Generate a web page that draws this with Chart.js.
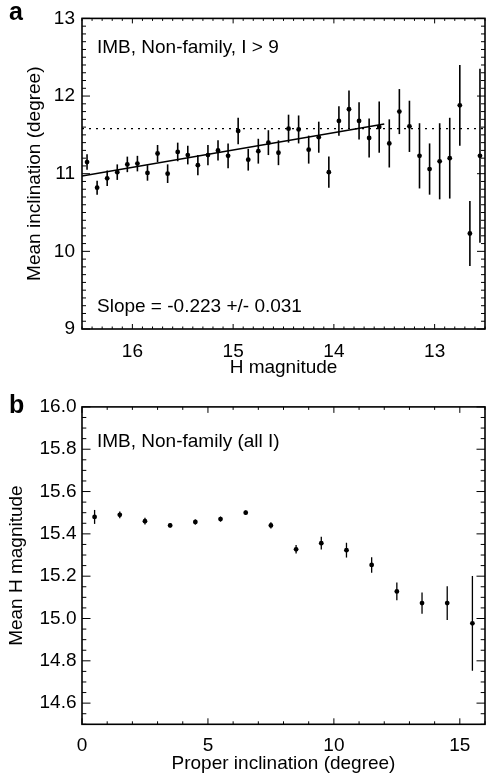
<!DOCTYPE html>
<html>
<head>
<meta charset="utf-8">
<script src="https://cdn.jsdelivr.net/npm/chart.js@4.4.0/dist/chart.umd.min.js"></script>
<style>
  html, body { margin: 0; padding: 0; background: #fff; }
  canvas { position: absolute; left: 0; }
  #chartA { top: 0; }
  #chartB { top: 390px; }
</style>
</head>
<body>
<canvas id="chartA" width="489" height="390"></canvas>
<canvas id="chartB" width="489" height="390"></canvas>
<script>
// ---- panel a: mean inclination vs H magnitude ----
const hMag = [16.45, 16.35, 16.25, 16.15, 16.05, 15.95, 15.85, 15.75, 15.65, 15.55,
              15.45, 15.35, 15.25, 15.15, 15.05, 14.95, 14.85, 14.75, 14.65, 14.55,
              14.45, 14.35, 14.25, 14.15, 14.05, 13.95, 13.85, 13.75, 13.65, 13.55,
              13.45, 13.35, 13.25, 13.15, 13.05, 12.95, 12.85, 12.75, 12.65, 12.55];
const meanIncl = [11.15, 10.82, 10.94, 11.02, 11.12, 11.13, 11.01, 11.26, 11.00, 11.28,
                  11.24, 11.11, 11.24, 11.30, 11.23, 11.55, 11.18, 11.29, 11.40, 11.27,
                  11.58, 11.57, 11.31, 11.47, 11.02, 11.68, 11.83, 11.68, 11.46, 11.60,
                  11.39, 11.80, 11.61, 11.23, 11.06, 11.16, 11.20, 11.88, 10.23, 11.23];
const inclErr = [0.10, 0.09, 0.10, 0.10, 0.10, 0.10, 0.10, 0.11, 0.12, 0.12,
                 0.12, 0.13, 0.13, 0.13, 0.16, 0.17, 0.14, 0.16, 0.16, 0.16,
                 0.18, 0.18, 0.18, 0.20, 0.20, 0.19, 0.24, 0.24, 0.25, 0.33,
                 0.31, 0.29, 0.33, 0.42, 0.33, 0.49, 0.52, 0.52, 0.42, 1.12];
const fitH = [16.5, 13.5];
const fitIncl = [10.97, 11.64];
const refH = [16.5, 12.5];
const refIncl = [11.58, 11.58];
const hTicks = [16, 15, 14, 13];
const inclTicks = [9, 10, 11, 12, 13];

// ---- panel b: mean H vs proper inclination ----
const propIncl = [0.5, 1.5, 2.5, 3.5, 4.5, 5.5, 6.5, 7.5, 8.5, 9.5, 10.5, 11.5, 12.5, 13.5, 14.5, 15.5];
const meanH = [15.48, 15.49, 15.46, 15.44, 15.456, 15.47, 15.50, 15.44,
               15.327, 15.356, 15.323, 15.253, 15.128, 15.073, 15.073, 14.977];
const hErr = [0.033, 0.016, 0.016, 0.010, 0.012, 0.012, 0.010, 0.015,
              0.020, 0.030, 0.035, 0.037, 0.042, 0.050, 0.080, 0.224];
const propTicks = [0, 5, 10, 15];
const meanHTicks = [14.6, 14.8, 15.0, 15.2, 15.4, 15.6, 15.8, 16.0];

const FONT = "'Liberation Sans', Arial, Helvetica, sans-serif";
Chart.defaults.font.family = FONT;
Chart.defaults.font.size = 19;
Chart.defaults.color = '#000';

// vertical error bars on the first dataset
const errorBars = {
  id: 'errorBars',
  afterDatasetsDraw(chart, args, opts) {
    const { ctx, scales: { x, y } } = chart;
    ctx.save();
    ctx.strokeStyle = '#000';
    ctx.lineWidth = opts.width;
    chart.data.datasets[0].data.forEach((p, i) => {
      const px = x.getPixelForValue(p.x);
      ctx.beginPath();
      ctx.moveTo(px, y.getPixelForValue(p.y - opts.err[i]));
      ctx.lineTo(px, y.getPixelForValue(p.y + opts.err[i]));
      ctx.stroke();
    });
    ctx.restore();
  }
};

// box frame with inward ticks on all four sides, plus the text labels
const frameTicks = {
  id: 'frameTicks',
  afterDraw(chart, args, o) {
    const { ctx, chartArea: a, scales: { x, y } } = chart;
    ctx.save();
    ctx.strokeStyle = '#000';
    ctx.lineWidth = 1.6;
    ctx.strokeRect(a.left, a.top, a.right - a.left, a.bottom - a.top);
    ctx.lineWidth = 1;
    const walk = (min, max, step, major, fn) => {
      const n = Math.round((max - min) / step);
      for (let k = 0; k <= n; k++) {
        const v = min + k * step;
        const r = v / major;
        fn(v, Math.abs(r - Math.round(r)) < 1e-6);
      }
    };
    ctx.beginPath();
    walk(x.min, x.max, o.xMinor, o.xMajor, (v, big) => {
      const px = x.getPixelForValue(v);
      const len = big ? o.xLen[0] : o.xLen[1];
      ctx.moveTo(px, a.bottom); ctx.lineTo(px, a.bottom - len);
      ctx.moveTo(px, a.top); ctx.lineTo(px, a.top + len);
    });
    walk(y.min, y.max, o.yMinor, o.yMajor, (v, big) => {
      const py = y.getPixelForValue(v);
      const len = big ? o.yLen[0] : o.yLen[1];
      ctx.moveTo(a.left, py); ctx.lineTo(a.left + len, py);
      ctx.moveTo(a.right, py); ctx.lineTo(a.right - len, py);
    });
    ctx.stroke();
    ctx.fillStyle = '#000';
    ctx.textBaseline = 'alphabetic';
    o.texts.forEach(t => {
      ctx.font = t.font || ('19px ' + FONT);
      ctx.fillText(t.text, t.x, t.y);
    });
    ctx.restore();
  }
};

const noGrid = { display: false, drawTicks: false };

new Chart(document.getElementById('chartA'), {
  type: 'scatter',
  data: {
    datasets: [
      { data: hMag.map((h, i) => ({ x: h, y: meanIncl[i] })),
        pointRadius: 2.4, pointBackgroundColor: '#000', pointBorderWidth: 0 },
      { type: 'line', data: fitH.map((h, i) => ({ x: h, y: fitIncl[i] })),
        borderColor: '#000', borderWidth: 1.5, pointRadius: 0 },
      { type: 'line', data: refH.map((h, i) => ({ x: h, y: refIncl[i] })),
        borderColor: '#000', borderWidth: 1.2, borderDash: [2, 5], pointRadius: 0 }
    ]
  },
  options: {
    responsive: false, animation: false, events: [],
    layout: { padding: { top: 8, right: 0, left: 0, bottom: 0 } },
    plugins: {
      legend: { display: false }, tooltip: { enabled: false },
      errorBars: { err: inclErr, width: 1.6 },
      frameTicks: {
        xMinor: 0.1, xMajor: 1, xLen: [5, 2.5],
        yMinor: 0.1, yMajor: 1, yLen: [8, 4],
        texts: [
          { text: 'a', x: 9, y: 20, font: 'bold 25px ' + FONT },
          { text: 'IMB, Non-family, I > 9', x: 97, y: 53 },
          { text: 'Slope = -0.223 +/- 0.031', x: 97, y: 312 }
        ]
      }
    },
    scales: {
      x: {
        type: 'linear', reverse: true, min: 12.5, max: 16.5,
        grid: noGrid, border: { display: false },
        afterBuildTicks: s => { s.ticks = hTicks.map(v => ({ value: v })); },
        afterFit: s => { s.height = 61; },
        ticks: { padding: 11, maxRotation: 0, autoSkip: false, callback: v => String(v) },
        title: { display: true, text: 'H magnitude', padding: { top: 0, bottom: 10.6 } }
      },
      y: {
        type: 'linear', min: 9, max: 13,
        grid: noGrid, border: { display: false },
        afterBuildTicks: s => { s.ticks = inclTicks.map(v => ({ value: v })); },
        afterFit: s => { s.width = 82; },
        ticks: { padding: 7, autoSkip: false, callback: v => String(v) },
        title: { display: true, text: 'Mean inclination (degree)', padding: { top: 23.6, bottom: 0 } }
      }
    }
  },
  plugins: [errorBars, frameTicks]
});

new Chart(document.getElementById('chartB'), {
  type: 'scatter',
  data: {
    datasets: [
      { data: propIncl.map((p, i) => ({ x: p, y: meanH[i] })),
        pointRadius: 2.4, pointBackgroundColor: '#000', pointBorderWidth: 0 }
    ]
  },
  options: {
    responsive: false, animation: false, events: [],
    layout: { padding: { top: 13.3, right: 0, left: 0, bottom: 0 } },
    plugins: {
      legend: { display: false }, tooltip: { enabled: false },
      errorBars: { err: hErr, width: 1.3 },
      frameTicks: {
        xMinor: 1, xMajor: 5, xLen: [6, 3],
        yMinor: 0.05, yMajor: 0.2, yLen: [8.5, 4.3],
        texts: [
          { text: 'b', x: 9, y: 23, font: 'bold 25px ' + FONT },
          { text: 'IMB, Non-family (all I)', x: 97, y: 57 }
        ]
      }
    },
    scales: {
      x: {
        type: 'linear', min: 0, max: 16,
        grid: noGrid, border: { display: false },
        afterBuildTicks: s => { s.ticks = propTicks.map(v => ({ value: v })); },
        afterFit: s => { s.height = 55.7; },
        ticks: { padding: 10, maxRotation: 0, autoSkip: false, callback: v => String(v) },
        title: { display: true, text: 'Proper inclination (degree)', padding: { top: 0, bottom: 5 } }
      },
      y: {
        type: 'linear', min: 14.5, max: 16,
        grid: noGrid, border: { display: false },
        afterBuildTicks: s => { s.ticks = meanHTicks.map(v => ({ value: v })); },
        afterFit: s => { s.width = 82; },
        ticks: { padding: 5.5, autoSkip: false, callback: v => Number(v).toFixed(1) },
        title: { display: true, text: 'Mean H magnitude', padding: { top: 5.6, bottom: 0 } }
      }
    }
  },
  plugins: [errorBars, frameTicks]
});
</script>
</body>
</html>
